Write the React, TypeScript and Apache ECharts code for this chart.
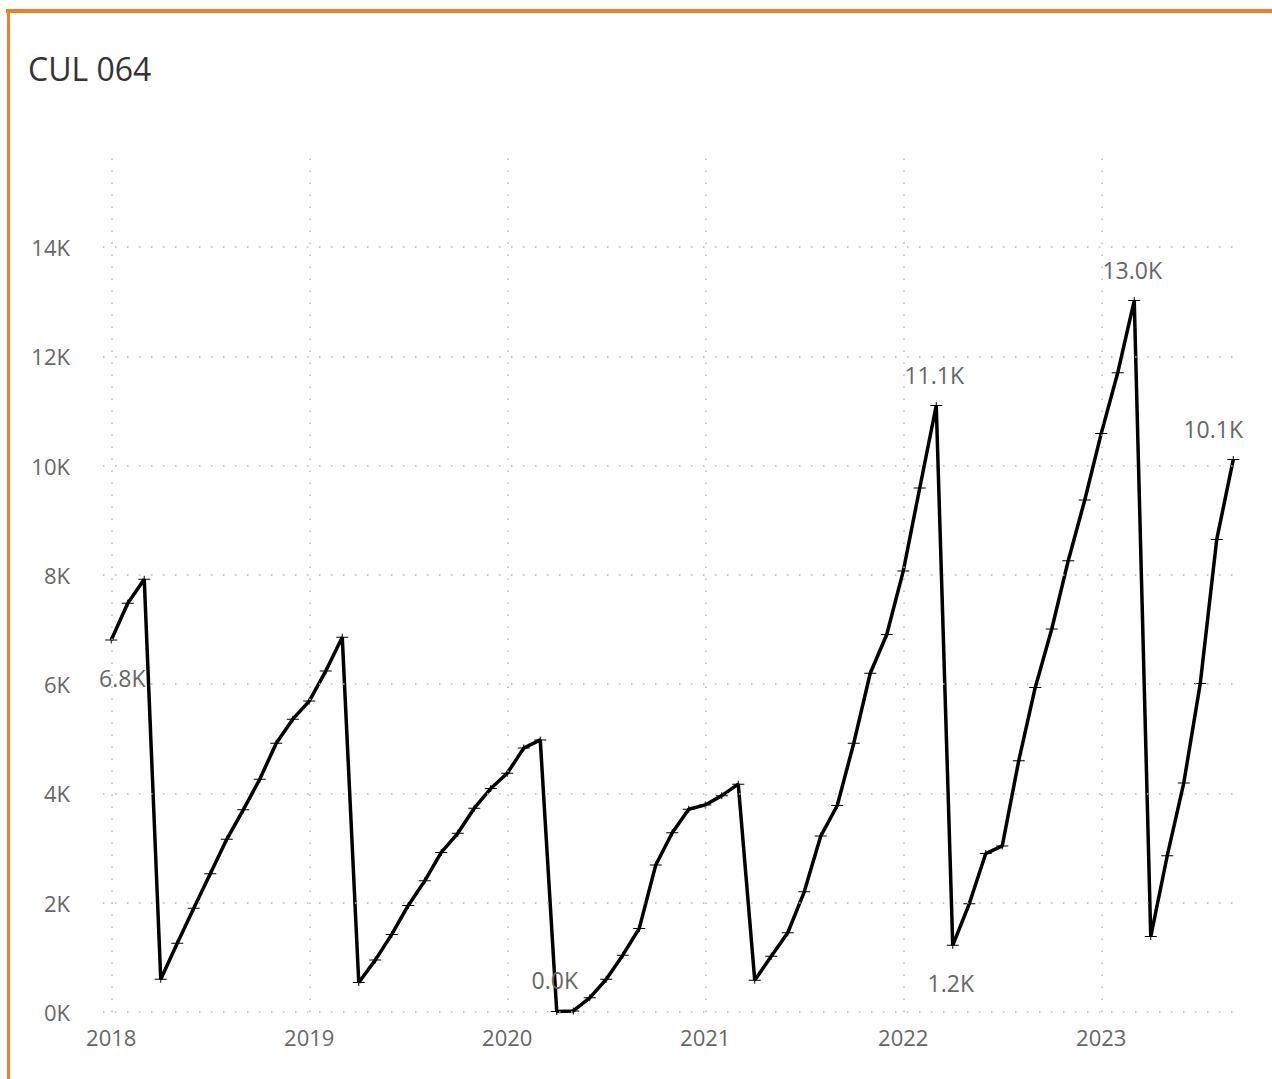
import React, { useEffect, useRef } from "react";
import * as echarts from "echarts";

const TITLE = "CUL 064";

const months = [
  "2018-01","2018-02","2018-03","2018-04","2018-05","2018-06","2018-07","2018-08","2018-09","2018-10","2018-11","2018-12",
  "2019-01","2019-02","2019-03","2019-04","2019-05","2019-06","2019-07","2019-08","2019-09","2019-10","2019-11","2019-12",
  "2020-01","2020-02","2020-03","2020-04","2020-05","2020-06","2020-07","2020-08","2020-09","2020-10","2020-11","2020-12",
  "2021-01","2021-02","2021-03","2021-04","2021-05","2021-06","2021-07","2021-08","2021-09","2021-10","2021-11","2021-12",
  "2022-01","2022-02","2022-03","2022-04","2022-05","2022-06","2022-07","2022-08","2022-09","2022-10","2022-11","2022-12",
  "2023-01","2023-02","2023-03","2023-04","2023-05","2023-06","2023-07","2023-08","2023-09",
];

const values = [
  6810, 7480, 7920, 600, 1260, 1900, 2530, 3160, 3700, 4260, 4920, 5360,
  5690, 6240, 6860, 540, 950, 1420, 1950, 2400, 2920, 3270, 3730, 4090,
  4370, 4830, 4980, 10, 20, 260, 600, 1040, 1530, 2690, 3280, 3710,
  3790, 3960, 4170, 580, 1020, 1450, 2200, 3220, 3780, 4920, 6200, 6910,
  8070, 9590, 11100, 1220, 1980, 2900, 3040, 4600, 5940, 7010, 8260, 9370,
  10590, 11700, 13020, 1380, 2860, 4190, 6010, 8650, 10110,
];

const yTicks = [0, 2000, 4000, 6000, 8000, 10000, 12000, 14000];
const yearTicks = ["2018-01", "2019-01", "2020-01", "2021-01", "2022-01", "2023-01"];

// labelled points: category, placement
const labelledPoints = [
  { month: "2018-01", pos: "bottom" },
  { month: "2020-04", pos: "top" },
  { month: "2022-03", pos: "top" },
  { month: "2022-04", pos: "bottom" },
  { month: "2023-03", pos: "top" },
  { month: "2023-09", pos: "top" },
];

const FONT = "'Open Sans', 'Noto Sans', sans-serif";
const ORANGE = "#EE8026";

function fmtK(v: number) {
  return (v / 1000).toFixed(1) + "K";
}

export default function App() {
  const ref = useRef<HTMLDivElement>(null);

  useEffect(() => {
    if (!ref.current) return;
    const chart = echarts.init(ref.current, undefined, { renderer: "svg" });

    const seriesData = values.map((v, i) => {
      const lp = labelledPoints.find((p) => p.month === months[i]);
      if (!lp) return v;
      let offset = [-2, 0];
      if (i === 0) offset = [11, 0];
      if (i === values.length - 1) offset = [-20, 0];
      return {
        value: v,
        label: {
          show: true,
          position: lp.pos,
          distance: lp.pos === "top" ? 16 : 23,
          offset,
          formatter: () => fmtK(v),
          color: "#666666",
          fontSize: 23,
          fontFamily: FONT,
        },
      };
    });

    const gridLineStyle = {
      color: "#b8b8b8",
      width: 1.5,
      type: [1.5, 10.5],
    };

    chart.setOption({
      animation: false,
      backgroundColor: "#ffffff",
      title: {
        text: TITLE,
        left: 28,
        top: 52,
        padding: 0,
        textStyle: {
          color: "#333333",
          fontSize: 32,
          fontWeight: "normal",
          fontFamily: FONT,
        },
      },
      grid: {
        left: 103,
        right: 30.5,
        top: 158,
        bottom: 67,
        containLabel: false,
      },
      xAxis: {
        type: "category",
        data: months,
        boundaryGap: true,
        axisLine: { show: false },
        axisTick: { show: false },
        splitLine: { show: false },
        axisLabel: {
          interval: (idx: number) => idx % 12 === 0,
          formatter: (v: string) => v.slice(0, 4),
          color: "#666666",
          fontSize: 22,
          fontFamily: FONT,
          margin: 14,
        },
      },
      yAxis: {
        type: "value",
        min: 0,
        max: 15630,
        interval: 2000,
        axisLine: { show: false },
        axisTick: { show: false },
        splitLine: { show: false },
        axisLabel: {
          showMaxLabel: false,
          formatter: (v: number) => (v > 14000 ? "" : v / 1000 + "K"),
          color: "#666666",
          fontSize: 22,
          fontFamily: FONT,
          margin: 33,
        },
      },
      series: [
        {
          name: "grid",
          type: "line",
          data: [],
          z: 1,
          silent: true,
          markLine: {
            silent: true,
            symbol: ["none", "none"],
            label: { show: false },
            lineStyle: gridLineStyle,
            emphasis: { disabled: true },
            data: [
              ...yTicks.map((t) => ({ yAxis: t })),
              ...yearTicks.map((m) => ({ xAxis: m })),
            ],
          },
        },
        {
          name: TITLE,
          type: "line",
          data: seriesData,
          z: 3,
          symbol: "path://M0,3H12V4H0Z M5.5,0H6.5V7H5.5Z",
          symbolSize: [12, 7],
          showAllSymbol: true,
          itemStyle: { color: "#000000" },
          lineStyle: { color: "#000000", width: 3.5 },
          label: { show: false },
        },
      ],
    });

    return () => chart.dispose();
  }, []);

  return (
    <div
      style={{
        position: "fixed",
        left: 0,
        top: 0,
        width: 1272,
        height: 1079,
        overflow: "hidden",
        background: "#ffffff",
      }}
    >
      <div ref={ref} style={{ position: "absolute", left: 0, top: 0, width: 1272, height: 1079 }} />
      <div style={{ position: "absolute", left: 6, top: 9, width: 1266, height: 3.5, background: ORANGE }} />
      <div style={{ position: "absolute", left: 6.5, top: 9, width: 3, height: 1070, background: ORANGE }} />
    </div>
  );
}
